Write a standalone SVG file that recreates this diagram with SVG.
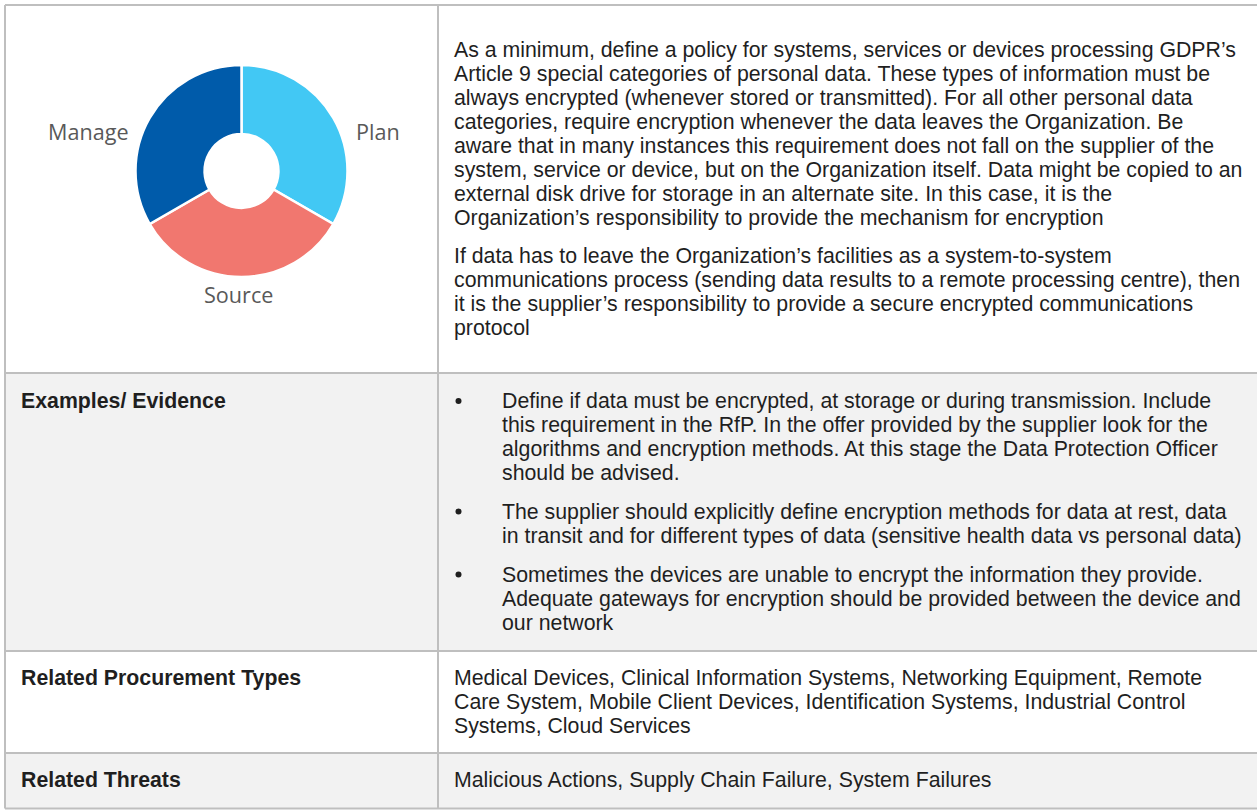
<svg xmlns="http://www.w3.org/2000/svg" width="1257" height="810" viewBox="0 0 1257 810">
<style>
.grid{fill:none;stroke:#bfbfbf;stroke-width:2}
.t{font-family:"Liberation Sans",Arial,sans-serif;font-size:21.3px;fill:#1f1f1f}
.b{font-weight:bold}
.lbl{font-family:"Open Sans","Noto Sans",sans-serif;font-size:21.6px;fill:#595959}
.seg{stroke:#ffffff;stroke-width:2.5;stroke-linejoin:miter}
.dot{fill:#1f1f1f}
</style>
<rect x="0" y="0" width="1257" height="810" fill="#ffffff"/>
<g id="row-fills">
<rect x="5" y="373" width="1260" height="278" fill="#f2f2f2"/>
<rect x="5" y="753" width="1260" height="56" fill="#f2f2f2"/>
</g>
<g id="donut">
<path class="seg" fill="#42c8f4" d="M241.5,65 A106,106 0 0 1 333.3,224 L273.5,189.5 A37,37 0 0 0 241.5,134 Z"/>
<path class="seg" fill="#f1776f" d="M333.3,224 A106,106 0 0 1 149.7,224 L209.5,189.5 A37,37 0 0 0 273.5,189.5 Z"/>
<path class="seg" fill="#005baa" d="M149.7,224 A106,106 0 0 1 241.5,65 L241.5,134 A37,37 0 0 0 209.5,189.5 Z"/>
<text class="lbl" x="48" y="140">Manage</text>
<text class="lbl" x="356" y="140">Plan</text>
<text class="lbl" x="204" y="303">Source</text>
</g>
<g id="description">
<text class="t" x="454" y="56.5">As a minimum, define a policy for systems, services or devices processing GDPR’s</text>
<text class="t" x="454" y="80.5">Article 9 special categories of personal data. These types of information must be</text>
<text class="t" x="454" y="104.5">always encrypted (whenever stored or transmitted). For all other personal data</text>
<text class="t" x="454" y="128.5">categories, require encryption whenever the data leaves the Organization. Be</text>
<text class="t" x="454" y="152.5">aware that in many instances this requirement does not fall on the supplier of the</text>
<text class="t" x="454" y="176.5">system, service or device, but on the Organization itself. Data might be copied to an</text>
<text class="t" x="454" y="200.5">external disk drive for storage in an alternate site. In this case, it is the</text>
<text class="t" x="454" y="224.5">Organization’s responsibility to provide the mechanism for encryption</text>
<text class="t" x="454" y="263">If data has to leave the Organization’s facilities as a system-to-system</text>
<text class="t" x="454" y="287">communications process (sending data results to a remote processing centre), then</text>
<text class="t" x="454" y="311">it is the supplier’s responsibility to provide a secure encrypted communications</text>
<text class="t" x="454" y="335">protocol</text>
</g>
<g id="examples-label">
<text class="t b" x="21" y="408">Examples/ Evidence</text>
</g>
<g id="examples-list">
<circle class="dot" cx="458.5" cy="401" r="3"/>
<text class="t" x="502" y="408">Define if data must be encrypted, at storage or during transmission. Include</text>
<text class="t" x="502" y="432">this requirement in the RfP. In the offer provided by the supplier look for the</text>
<text class="t" x="502" y="456">algorithms and encryption methods. At this stage the Data Protection Officer</text>
<text class="t" x="502" y="480">should be advised.</text>
<circle class="dot" cx="458.5" cy="511.5" r="3"/>
<text class="t" x="502" y="518.5">The supplier should explicitly define encryption methods for data at rest, data</text>
<text class="t" x="502" y="542.5">in transit and for different types of data (sensitive health data vs personal data)</text>
<circle class="dot" cx="458.5" cy="574.5" r="3"/>
<text class="t" x="502" y="581.5">Sometimes the devices are unable to encrypt the information they provide.</text>
<text class="t" x="502" y="605.5">Adequate gateways for encryption should be provided between the device and</text>
<text class="t" x="502" y="629.5">our network</text>
</g>
<g id="procurement-label">
<text class="t b" x="21" y="685">Related Procurement Types</text>
</g>
<g id="procurement-types">
<text class="t" x="454" y="685">Medical Devices, Clinical Information Systems, Networking Equipment, Remote</text>
<text class="t" x="454" y="709">Care System, Mobile Client Devices, Identification Systems, Industrial Control</text>
<text class="t" x="454" y="733">Systems, Cloud Services</text>
</g>
<g id="threats-label">
<text class="t b" x="21" y="787">Related Threats</text>
</g>
<g id="threats">
<text class="t" x="454" y="787">Malicious Actions, Supply Chain Failure, System Failures</text>
</g>
<g id="grid">
<path class="grid" d="M5,5 H1265 M5,373 H1265 M5,651 H1265 M5,753 H1265 M5,808.5 H1265 M5,5 V808.5 M438,5 V808.5"/>
</g>
</svg>
